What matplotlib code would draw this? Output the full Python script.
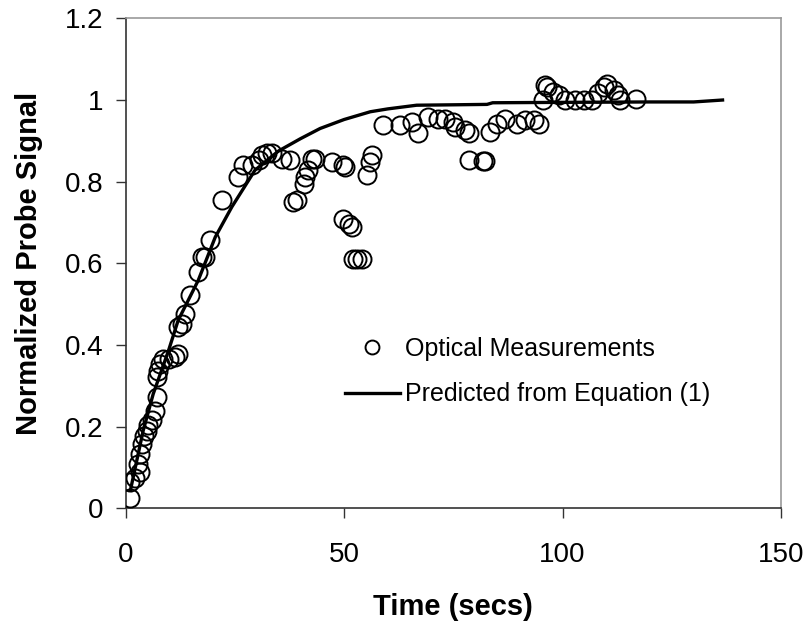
import numpy as np
import matplotlib.pyplot as plt
from matplotlib.lines import Line2D

plt.rcParams['font.family'] = ['Liberation Sans', 'DejaVu Sans']

# optical measurements (time in secs, normalized signal)
t_meas = [1.0, 1.0, 2.1, 2.9, 3.3, 3.3, 3.7, 4.3, 4.8, 5.2, 6.0, 6.7, 7.1, 7.1,
          7.5, 7.9, 8.6, 9.8, 11.3, 12.0, 12.0, 12.8, 13.6, 14.7, 16.6, 17.4,
          18.2, 19.3, 22.0, 25.8, 26.9, 28.9, 30.4, 31.1, 32.3, 33.5, 35.7,
          37.6, 38.4, 39.2, 40.7, 41.1, 41.8, 42.6, 43.4, 47.2, 49.8, 50.2,
          49.8, 51.0, 51.8, 52.1, 52.9, 54.1, 55.2, 56.0, 56.3, 59.0, 62.8,
          65.5, 67.0, 69.3, 71.6, 73.1, 75.0, 75.4, 77.7, 78.5, 78.5, 81.9,
          82.3, 83.4, 85.0, 86.9, 89.6, 91.5, 93.4, 94.5, 95.6, 96.0, 96.4,
          97.9, 99.1, 100.6, 102.9, 104.8, 106.7, 108.2, 109.4, 110.2, 111.7,
          112.8, 113.2, 116.7]
y_meas = [0.025, 0.064, 0.073, 0.109, 0.088, 0.134, 0.158, 0.178, 0.19, 0.203,
          0.215, 0.239, 0.272, 0.321, 0.337, 0.354, 0.366, 0.366, 0.370, 0.377,
          0.444, 0.452, 0.476, 0.521, 0.578, 0.615, 0.615, 0.656, 0.754, 0.811,
          0.840, 0.840, 0.852, 0.864, 0.869, 0.870, 0.856, 0.852, 0.75, 0.754,
          0.795, 0.811, 0.828, 0.856, 0.856, 0.848, 0.84, 0.836, 0.709, 0.697,
          0.689, 0.611, 0.611, 0.611, 0.815, 0.848, 0.864, 0.938, 0.938, 0.946,
          0.918, 0.958, 0.954, 0.954, 0.946, 0.934, 0.926, 0.918, 0.854, 0.851,
          0.851, 0.922, 0.942, 0.954, 0.942, 0.950, 0.950, 0.942, 0.999, 1.036,
          1.032, 1.020, 1.012, 0.999, 0.999, 0.999, 0.999, 1.016, 1.032, 1.040,
          1.024, 1.012, 0.999, 1.003]

# predicted curve from equation (1)
t_pred = [1, 4, 6.3, 9.8, 12, 16.6, 20.5, 24.3, 29.6, 35, 40, 44.5, 50, 56,
          60, 66.6, 75, 82.7, 84, 100, 120, 130, 137]
y_pred = [0.04, 0.19, 0.28, 0.386, 0.46, 0.558, 0.664, 0.738, 0.828, 0.875,
          0.905, 0.93, 0.952, 0.971, 0.978, 0.987, 0.988, 0.989, 0.993, 0.994,
          0.995, 0.995, 1.0]

fig = plt.figure(figsize=(8.11, 6.29), dpi=100)
ax = fig.add_axes([0.155, 0.192, 0.808, 0.779])

ax.plot(t_pred, y_pred, color='black', lw=2.4, solid_capstyle='butt', zorder=2)
ax.plot(t_meas, y_meas, 'o', ms=13, mfc='none', mec='black', mew=1.4, zorder=3)

ax.set_xlim(0, 150)
ax.set_ylim(0, 1.2)
ax.set_xticks([0, 50, 100, 150])
ax.set_yticks([0, 0.2, 0.4, 0.6, 0.8, 1, 1.2])
ax.set_yticklabels(['0', '0.2', '0.4', '0.6', '0.8', '1', '1.2'])
ax.tick_params(direction='out', length=7, width=1, colors='#333333',
               labelcolor='black', labelsize=20)
ax.tick_params(axis='x', pad=17)
ax.tick_params(axis='y', pad=9)

for s in ['left', 'bottom']:
    ax.spines[s].set_color('#333333')
    ax.spines[s].set_linewidth(1.2)
for s in ['top', 'right']:
    ax.spines[s].set_color('#999999')
    ax.spines[s].set_linewidth(1.2)

ax.set_xlabel('Time (secs)', fontsize=21, fontweight='bold', labelpad=18)
ax.set_ylabel('Normalized Probe Signal', fontsize=21, fontweight='bold', labelpad=16)

handles = [Line2D([], [], ls='none', marker='o', ms=10, mfc='none', mec='black', mew=1.4),
           Line2D([], [], color='black', lw=2.4)]
ax.legend(handles, ['Optical Measurements', 'Predicted from Equation (1)'],
          loc='upper left', bbox_to_anchor=(0.30, 0.395), frameon=False,
          fontsize=18, handlelength=2.2, handletextpad=0.2, labelspacing=0.85)

fig.savefig('out.png', dpi=100)
